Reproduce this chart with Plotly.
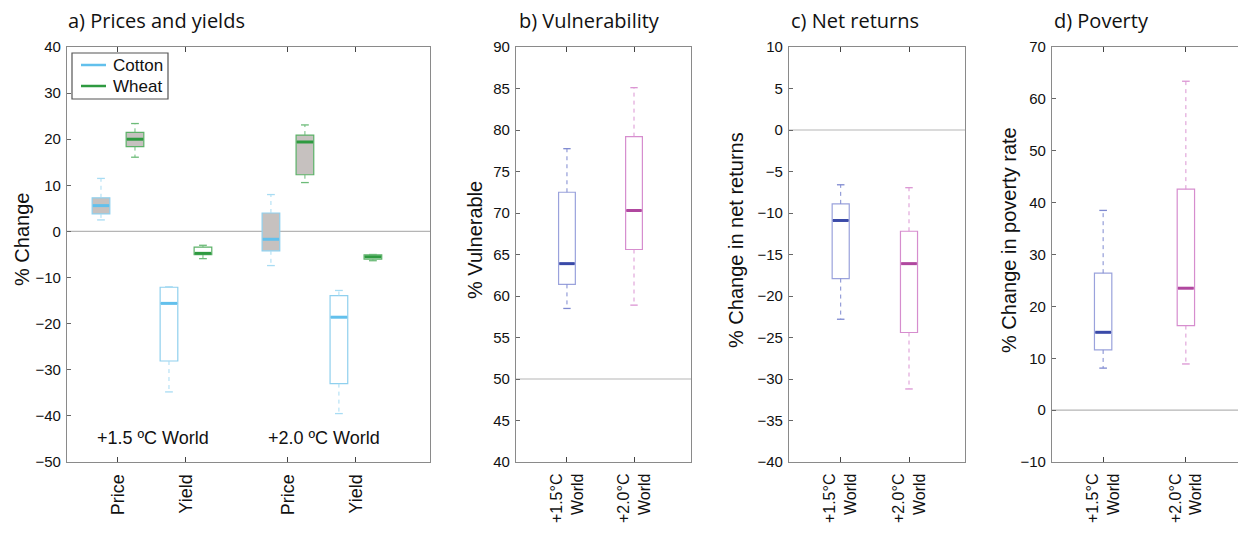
import plotly.graph_objects as go

# ---------------- data ----------------
# Panel a: prices and yields (cotton / wheat), groups: +1.5 (Price, Yield), +2.0 (Price, Yield)
series_names = ["Cotton", "Wheat"]
a_labels = ["Price", "Yield", "Price", "Yield"]
cotton_lower = [2.5, -34.8, -7.4, -39.5]
cotton_q1 = [3.8, -28.1, -4.2, -33.0]
cotton_med = [5.6, -15.6, -1.7, -18.6]
cotton_q3 = [7.3, -12.1, 4.0, -13.9]
cotton_upper = [11.5, -12.0, 8.0, -12.8]

wheat_lower = [16.1, -5.9, 10.6, -6.35]
wheat_q1 = [18.4, -5.05, 12.3, -6.0]
wheat_med = [20.0, -4.75, 19.4, -5.5]
wheat_q3 = [21.5, -3.4, 20.9, -5.1]
wheat_upper = [23.4, -3.0, 23.1, -5.0]

world_labels = ["+1.5 \u00baC World", "+2.0 \u00baC World"]

# Panels b-d: scenarios
scen_labels = ["+1.5\u00b0C<br>World", "+2.0\u00b0C<br>World"]

vuln_lower = [58.5, 58.9]
vuln_q1 = [61.4, 65.6]
vuln_med = [63.9, 70.3]
vuln_q3 = [72.5, 79.2]
vuln_upper = [77.75, 85.1]

net_lower = [-22.8, -31.2]
net_q1 = [-17.9, -24.4]
net_med = [-10.9, -16.1]
net_q3 = [-8.9, -12.2]
net_upper = [-6.6, -6.95]

pov_lower = [8.1, 8.9]
pov_q1 = [11.6, 16.3]
pov_med = [15.0, 23.5]
pov_q3 = [26.4, 42.6]
pov_upper = [38.5, 63.4]

ref_levels = [0, 50, 0, 0]

# ---------------- styling ----------------
W, H = 1238, 546
FONT = "Liberation Sans, Arial, Helvetica, sans-serif"
TFONT = "Open Sans, Lato, sans-serif"
FRAME = "#8a8a8a"
GRAY_FILL = "#c6c1bf"

COTTON = dict(line="#8fd0ee", med="#62c0ec", whisk="#a8dcf3")
WHEAT = dict(line="#5cb168", med="#2e9a40", whisk="#6cbb78")
BLUE = dict(line="#9aa2dc", med="#3a4aa8", whisk="#7e89d0")
MAG = dict(line="#d68dce", med="#b0479f", whisk="#db95d3")

fig = go.Figure()


def px_x(p):
    return p / W


def px_y(p):
    return 1 - p / H


def add_box(xa, ya, pos, w, lo, q1, med, q3, hi, st, fill):
    common = dict(xaxis=xa, yaxis=ya, showlegend=False, hoverinfo="skip")
    # whiskers (dashed)
    fig.add_trace(go.Scatter(x=[pos, pos, None, pos, pos], y=[q3, hi, None, q1, lo],
                             mode="lines", line=dict(color=st["whisk"], width=1, dash="4px,4px"),
                             **common))
    # caps
    cw = w * 0.22
    fig.add_trace(go.Scatter(x=[pos - cw, pos + cw, None, pos - cw, pos + cw],
                             y=[hi, hi, None, lo, lo],
                             mode="lines", line=dict(color=st["whisk"], width=1.3), **common))
    # box
    fig.add_trace(go.Box(x=[pos], q1=[q1], median=[med], q3=[q3],
                         lowerfence=[q1], upperfence=[q3], width=w,
                         whiskerwidth=0, boxpoints=False,
                         line=dict(color=st["line"], width=1.2),
                         fillcolor=fill, **common))
    # median (thicker)
    fig.add_trace(go.Scatter(x=[pos - w / 2 + 0.01, pos + w / 2 - 0.01], y=[med, med],
                             mode="lines", line=dict(color=st["med"], width=3), **common))


# ---- panel a ----
a_pos = [1, 2, 3.5, 4.5]
a_off = 0.25
a_w = 0.26
for i, lab in enumerate(a_labels):
    fill = GRAY_FILL if lab == "Price" else "white"
    add_box("x", "y", a_pos[i] - a_off, a_w, cotton_lower[i], cotton_q1[i], cotton_med[i],
            cotton_q3[i], cotton_upper[i], COTTON, fill)
    add_box("x", "y", a_pos[i] + a_off, a_w, wheat_lower[i], wheat_q1[i], wheat_med[i],
            wheat_q3[i], wheat_upper[i], WHEAT, fill)

# ---- panels b-d ----
panels = [
    ("x2", "y2", vuln_lower, vuln_q1, vuln_med, vuln_q3, vuln_upper, 0.25),
    ("x3", "y3", net_lower, net_q1, net_med, net_q3, net_upper, 0.25),
    ("x4", "y4", pov_lower, pov_q1, pov_med, pov_q3, pov_upper, 0.21),
]
for xa, ya, lo, q1, md, q3, hi, bw in panels:
    for j, st in enumerate([BLUE, MAG]):
        add_box(xa, ya, j + 1, bw, lo[j], q1[j], md[j], q3[j], hi[j], st, "white")

# ---------------- axes ----------------
ydom = [px_y(462), px_y(47)]
xdoms = [[px_x(67), px_x(430)], [px_x(516), px_x(691)], [px_x(789), px_x(965)], [px_x(1052), 1.0]]
xranges = [[0.25, 5.59], [0.24, 2.85], [0.243, 2.82], [0.382, 2.63]]
yranges = [[-50, 40], [40, 90], [-40, 10], [-10, 70]]
dticks = [10, 5, 5, 10]

layout_axes = {}
for k in range(4):
    sx = "xaxis" if k == 0 else f"xaxis{k + 1}"
    sy = "yaxis" if k == 0 else f"yaxis{k + 1}"
    yname = "y" if k == 0 else f"y{k + 1}"
    xname = "x" if k == 0 else f"x{k + 1}"
    if k == 0:
        tv = a_pos
        tt = a_labels
        tfs = 18
    else:
        tv = [1, 2]
        tt = scen_labels
        tfs = 16
    layout_axes[sx] = dict(domain=xdoms[k], range=xranges[k], anchor=yname,
                           tickmode="array", tickvals=tv, ticktext=tt, tickangle=-90,
                           ticks="inside", ticklen=5, tickcolor="#444", tickwidth=1,
                           showline=True, linecolor=FRAME, linewidth=1.3,
                           mirror="ticks", automargin=False,
                           showgrid=False, zeroline=False,
                           tickfont=dict(family=FONT, size=tfs, color="#111"),
                           ticklabelstandoff=4, fixedrange=True)
    layout_axes[sy] = dict(domain=ydom, range=yranges[k], anchor=xname,
                           dtick=dticks[k], tick0=0, ticks="inside", ticklen=4,
                           tickcolor="#666", showline=True, linecolor=FRAME, linewidth=1.3,
                           mirror=(k < 3), showgrid=False, zeroline=False, automargin=False,
                           tickfont=dict(family=FONT, size=15, color="#111"),
                           ticklabelstandoff=2, fixedrange=True)

# reference lines
shapes = []
for k, lvl in enumerate(ref_levels):
    xr = "x domain" if k == 0 else f"x{k + 1} domain"
    yr = "y" if k == 0 else f"y{k + 1}"
    shapes.append(dict(type="line", xref=xr, yref=yr, x0=0, x1=1, y0=lvl, y1=lvl,
                       line=dict(color="#b5b5b5", width=1.2), layer="below"))

# ---------------- annotations ----------------
ann = []
titles = [("a) Prices and yields", 66), ("b) Vulnerability", 517),
          ("c) Net returns", 789), ("d) Poverty", 1052)]
for t, xp in titles:
    ann.append(dict(text=t, x=px_x(xp), y=px_y(21), xref="paper", yref="paper",
                    xanchor="left", yanchor="middle", showarrow=False,
                    font=dict(family=TFONT, size=20, color="#111")))
ytitles = [("% Change", 22), ("% Vulnerable", 475),
           ("% Change in net returns", 736), ("% Change in poverty rate", 1009)]
for t, xp in ytitles:
    ann.append(dict(text=t, x=px_x(xp), y=px_y(240), xref="paper", yref="paper",
                    xanchor="center", yanchor="middle", textangle=-90, showarrow=False,
                    font=dict(family=FONT, size=20, color="#111")))
for t, xp in zip(world_labels, [153, 324]):
    ann.append(dict(text=t, x=px_x(xp), y=px_y(438), xref="paper", yref="paper",
                    xanchor="center", yanchor="middle", showarrow=False,
                    font=dict(family=FONT, size=18, color="#111")))

# ---- legend (panel a, drawn as a framed key) ----
shapes.append(dict(type="rect", xref="paper", yref="paper",
                   x0=px_x(72), x1=px_x(168), y0=px_y(99), y1=px_y(53),
                   line=dict(color="#555", width=1.2), fillcolor="white", layer="above"))
for name, st, yp in zip(series_names, [COTTON, WHEAT], [65, 86]):
    shapes.append(dict(type="line", xref="paper", yref="paper",
                       x0=px_x(81), x1=px_x(106), y0=px_y(yp), y1=px_y(yp),
                       line=dict(color=st["med"], width=2.5), layer="above"))
    ann.append(dict(text=name, x=px_x(111), y=px_y(yp), xref="paper", yref="paper",
                    xanchor="left", yanchor="middle", showarrow=False,
                    font=dict(family=FONT, size=17, color="#111")))

fig.update_layout(
    width=W, height=H, margin=dict(l=0, r=0, t=0, b=0),
    paper_bgcolor="white", plot_bgcolor="white",
    boxmode="overlay", showlegend=False,
    shapes=shapes, annotations=ann, **layout_axes,
)

fig.write_html("out.html")
